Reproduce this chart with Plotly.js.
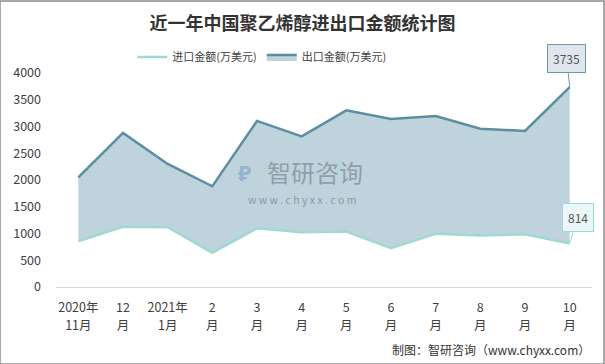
<!DOCTYPE html>
<html><head><meta charset="utf-8">
<script src="https://cdn.plot.ly/plotly-3.0.1.min.js"></script>
<style>html,body{margin:0;padding:0;background:#fff;}#chart{width:605px;height:364px;}</style>
</head><body><div id="chart"></div>
<script>
const categories = ["2020年11月","12月","2021年1月","2月","3月","4月","5月","6月","7月","8月","9月","10月"];
const tickLine1 = ["2020年","12","2021年","2","3","4","5","6","7","8","9","10"];
const tickLine2 = ["11月","月","1月","月","月","月","月","月","月","月","月","月"];
const importValues = [855, 1124, 1117, 638, 1098, 1023, 1036, 724, 993, 962, 986, 814];
const exportValues = [2050, 2880, 2300, 1883, 3104, 2816, 3302, 3141, 3197, 2960, 2917, 3735];
const importName = "进口金额(万美元)";
const exportName = "出口金额(万美元)";
const yTicks = [0, 500, 1000, 1500, 2000, 2500, 3000, 3500, 4000];

const font = "'Noto Sans CJK SC', 'Noto Sans', sans-serif";
const xIdx = categories.map((c, i) => i);

const traces = [
  {x: xIdx, y: importValues, name: importName, type: 'scatter', mode: 'lines',
   line: {color: '#9fd9d3', width: 2.5}, hoverinfo: 'none'},
  {x: xIdx, y: exportValues, name: exportName, type: 'scatter', mode: 'lines',
   fill: 'tonexty', fillcolor: 'rgba(190,211,220,1)',
   line: {color: '#5b8ea1', width: 2.5}, hoverinfo: 'none'},
  {x: xIdx, y: importValues, xaxis: 'x2', type: 'scatter', mode: 'lines', showlegend: false,
   line: {width: 0, color: 'rgba(0,0,0,0)'}, hoverinfo: 'none'}
];

const last = categories.length - 1;
const tickFont = {family: font, size: 12.5, color: '#404040'};
const layout = {
  width: 605, height: 364,
  margin: {l: 56, r: 13, t: 73, b: 77},
  paper_bgcolor: '#fff', plot_bgcolor: '#fff',
  font: {family: font, size: 12, color: '#404040'},
  title: {text: '<b>近一年中国聚乙烯醇进出口金额统计图</b>', x: 0.5, xanchor: 'center', y: 0.935, yanchor: 'middle',
    font: {family: font, size: 18, color: '#333'}},
  showlegend: true,
  legend: {orientation: 'h', x: 0.384, xanchor: 'center', y: 1.075, yanchor: 'middle',
    font: {family: font, size: 11, color: '#404040'}, itemwidth: 30, traceorder: 'normal'},
  xaxis: {type: 'linear', range: [-0.5, last + 0.5], tickmode: 'array', tickvals: xIdx, ticktext: tickLine1,
    showgrid: false, zeroline: false, showline: true, linecolor: '#d9d9d9', linewidth: 1,
    ticks: '', ticklabelstandoff: 9, tickfont: tickFont, fixedrange: true},
  xaxis2: {type: 'linear', overlaying: 'x', side: 'bottom', range: [-0.5, last + 0.5], tickmode: 'array', tickvals: xIdx, ticktext: tickLine2,
    showgrid: false, zeroline: false, showline: false,
    ticks: '', ticklabelstandoff: 29, tickfont: tickFont, fixedrange: true},
  yaxis: {range: [0, 4000], tickmode: 'array', tickvals: yTicks, showgrid: false, zeroline: false,
    showline: false, ticks: '', ticklen: 0, ticklabelstandoff: 14, tickfont: tickFont, fixedrange: true},
  shapes: [
    {type: 'rect', xref: 'paper', yref: 'paper', x0: -56/536, x1: 1 + 12/536, y0: -77/214, y1: 1 + 72/214,
     line: {color: '#8c8c8c', width: 1.5}, fillcolor: 'rgba(0,0,0,0)'}
  ],
  annotations: [
    {x: last, y: exportValues[last], xref: 'x', yref: 'y', text: String(exportValues[last]),
     showarrow: true, arrowhead: 0, arrowwidth: 1, arrowcolor: '#6f97a8', ax: -3, ay: -29,
     bgcolor: '#dfe6ec', bordercolor: '#6f97a8', borderwidth: 1, borderpad: 5,
     font: {family: font, size: 12, color: '#555'}},
    {x: last, y: importValues[last], xref: 'x', yref: 'y', text: String(importValues[last]),
     showarrow: true, arrowhead: 0, arrowwidth: 1, arrowcolor: '#9fd9d3', ax: 8, ay: -26,
     bgcolor: '#eaf7f6', bordercolor: '#9fd9d3', borderwidth: 1, borderpad: 5,
     font: {family: font, size: 12, color: '#555'}},
    {xref: 'paper', yref: 'paper', x: 0.39, y: 0.54, text: '智研咨询', showarrow: false,
     font: {family: font, size: 24, color: 'rgba(130,140,150,0.75)'}, xanchor: 'left'},
    {xref: 'paper', yref: 'paper', x: 0.351, y: 0.54, text: '<b>₽</b>', showarrow: false,
     font: {family: font, size: 22, color: 'rgba(140,170,200,0.8)'}},
    {xref: 'paper', yref: 'paper', x: 0.459, y: 0.41, text: 'w w w . c h y x x . c o m', showarrow: false,
     font: {family: font, size: 10.5, color: 'rgba(120,130,140,0.75)'}},
    {xref: 'paper', yref: 'paper', x: 1.0, y: -0.29, text: '制图：智研咨询（www.chyxx.com）', showarrow: false,
     xanchor: 'right', yanchor: 'middle', font: {family: font, size: 12, color: '#333'}}
  ]
};

Plotly.newPlot('chart', traces, layout, {displayModeBar: false, staticPlot: true});
</script></body></html>
